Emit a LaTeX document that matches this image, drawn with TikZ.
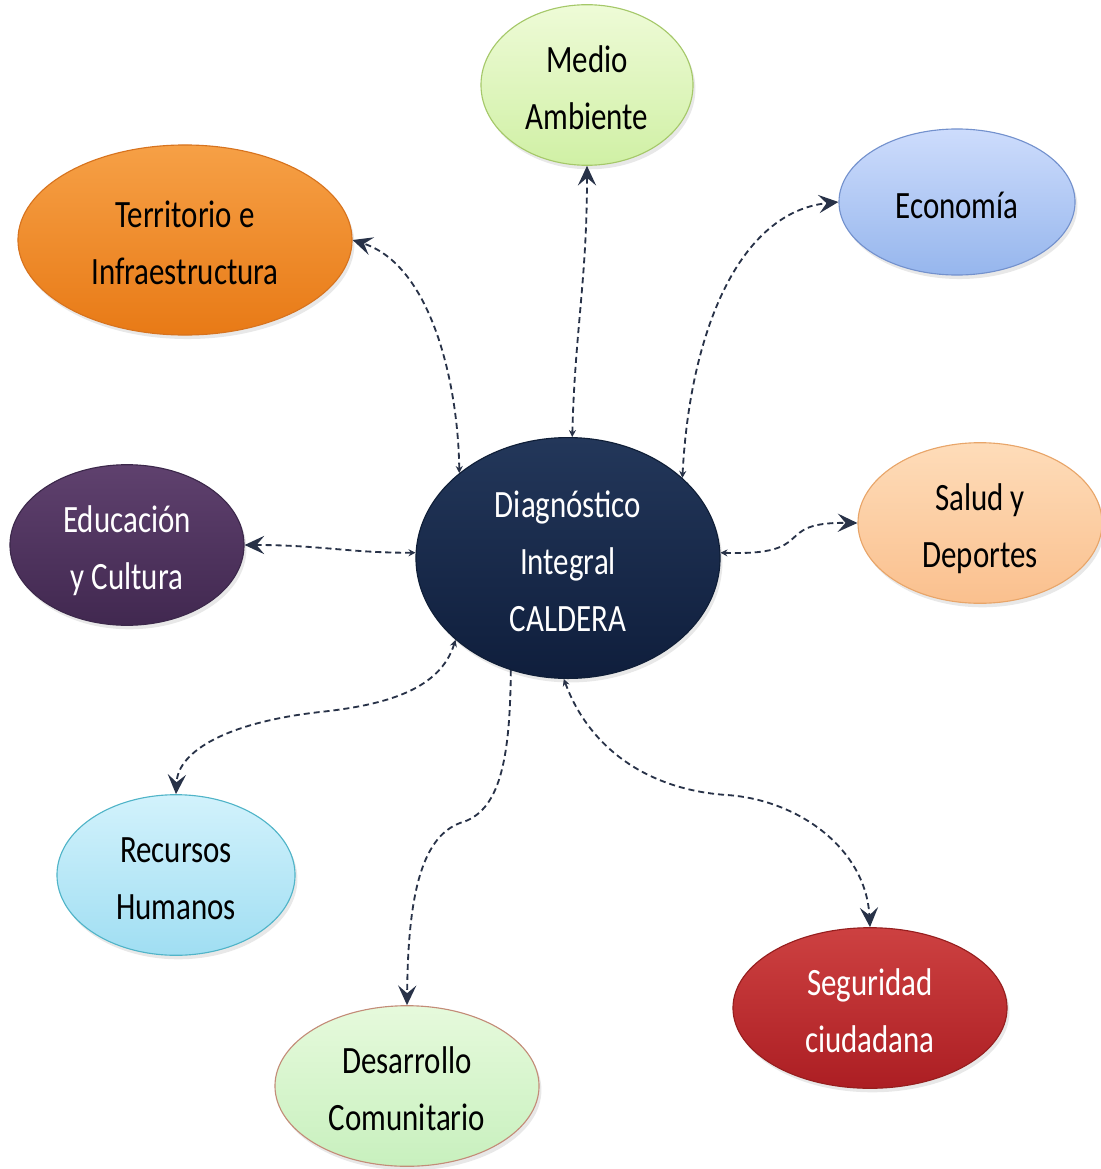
\documentclass[tikz,border=0pt]{standalone}
\usepackage{fontspec}
\setmainfont{Carlito}
\usepackage{graphicx}
\usetikzlibrary{shapes.geometric,arrows.meta,shadows}
\definecolor{lineC}{RGB}{40,50,72}
\newcommand{\tx}[1]{\raisebox{-3.5pt}[\height][\depth]{\scalebox{1}[1.25]{\fontsize{22}{32.3}\selectfont\begin{tabular}{@{}c@{}}#1\end{tabular}}}}
\tikzset{
  bub/.style={ellipse, inner sep=0pt, line width=0.8pt,
    drop shadow={opacity=0.18, shadow xshift=0.06cm, shadow yshift=-0.1cm}},
  conn/.style={draw=lineC, line width=1.3pt, dash pattern=on 4.3pt off 2.8pt},
  both/.style={arrows={Stealth[length=5pt,width=5pt]-Stealth[length=14pt,width=13pt,inset=5.5pt]}},
  one/.style={arrows={-Stealth[length=14pt,width=13pt,inset=5.5pt]}}
}
\begin{document}
\begin{tikzpicture}[x=0.025cm,y=-0.025cm]
\useasboundingbox (0,0) rectangle (1100,1169);
% nodes
\node[bub, draw={rgb,255:red,165;green,200;blue,105}, top color={rgb,255:red,238;green,251;blue,215}, bottom color={rgb,255:red,208;green,240;blue,165},
  minimum width=5.3cm, minimum height=3.75cm] (M) at (587,85) {\tx{Medio\\Ambiente}};
\node[bub, draw={rgb,255:red,215;green,115;blue,30}, top color={rgb,255:red,246;green,160;blue,70}, bottom color={rgb,255:red,232;green,122;blue,22},
  minimum width=8.35cm, minimum height=4.75cm] (T) at (185,240) {\tx{Territorio e\\Infraestructura}};
\node[bub, draw={rgb,255:red,115;green,145;blue,205}, top color={rgb,255:red,205;green,220;blue,252}, bottom color={rgb,255:red,150;green,182;blue,237},
  minimum width=5.9cm, minimum height=3.65cm] (E) at (957,202) {\tx{Economía}};
\node[bub, draw={rgb,255:red,60;green,40;blue,75}, top color={rgb,255:red,95;green,65;blue,110}, bottom color={rgb,255:red,65;green,40;blue,80}, text=white,
  minimum width=5.85cm, minimum height=4.0cm] (Ed) at (127,545) {\tx{Educación\\y Cultura}};
\node[bub, draw={rgb,255:red,15;green,30;blue,55}, top color={rgb,255:red,35;green,55;blue,90}, bottom color={rgb,255:red,15;green,30;blue,60}, text=white,
  minimum width=7.6cm, minimum height=5.0cm] (D) at (568,558) {\tx{Diagnóstico\\Integral\\CALDERA}};
\node[bub, draw={rgb,255:red,232;green,165;blue,105}, top color={rgb,255:red,254;green,220;blue,185}, bottom color={rgb,255:red,250;green,192;blue,142},
  minimum width=6.1cm, minimum height=3.65cm] (S) at (980,523) {\tx{Salud y\\Deportes}};
\node[bub, draw={rgb,255:red,80;green,180;blue,200}, top color={rgb,255:red,210;green,242;blue,252}, bottom color={rgb,255:red,160;green,222;blue,242},
  minimum width=5.95cm, minimum height=3.6cm] (R) at (176,875) {\tx{Recursos\\Humanos}};
\node[bub, draw={rgb,255:red,195;green,140;blue,120}, top color={rgb,255:red,230;green,250;blue,220}, bottom color={rgb,255:red,200;green,240;blue,190},
  minimum width=6.6cm, minimum height=4.0cm] (Dc) at (407,1086) {\tx{Desarrollo\\Comunitario}};
\node[bub, draw={rgb,255:red,150;green,30;blue,30}, top color={rgb,255:red,205;green,65;blue,65}, bottom color={rgb,255:red,172;green,30;blue,35}, text=white,
  minimum width=6.85cm, minimum height=3.75cm] (Sg) at (870,1008) {\tx{Seguridad\\ciudadana}};
% helper coordinates
\coordinate (rmid) at (320,712);
\coordinate (dmid) at (460,823);
\coordinate (smid) at (727,795);
% connectors
\draw[conn, both] (D.88) .. controls (575,330) and (587,280) .. (M.south);
\draw[conn, both] (D.142) .. controls (458,380) and (430,265) .. (T.east);
\draw[conn, both] (D.35) .. controls (690,330) and (740,212) .. (E.west);
\draw[conn, both] (D.178) .. controls (350,553) and (320,545) .. (Ed.east);
\draw[conn, both] (D.2) .. controls (820,556) and (770,522) .. (S.west);
\draw[conn, both] (D.216) .. controls (440,690) and (385,705) .. (rmid) .. controls (230,722) and (178,750) .. (R.north);
\draw[conn, one] (D.243) .. controls (510,760) and (500,812) .. (dmid) .. controls (420,838) and (408,900) .. (Dc.north);
\draw[conn, both] (D.268) .. controls (590,750) and (650,790) .. (smid) .. controls (800,800) and (866,850) .. (Sg.north);
\end{tikzpicture}
\end{document}
